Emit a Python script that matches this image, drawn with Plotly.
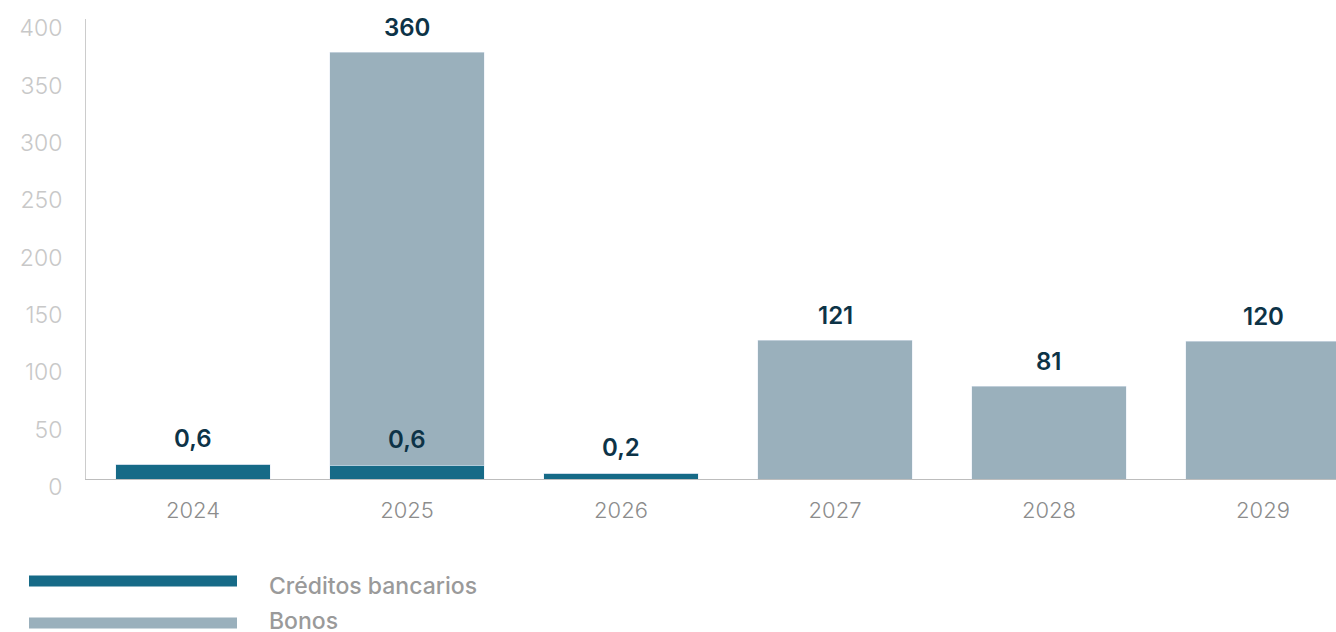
import plotly.graph_objects as go

years = ["2024", "2025", "2026", "2027", "2028", "2029"]
# bar heights as drawn in the source (credits bars have a visible minimum height)
creditos = [13, 12, 5, 0, 0, 0]
bonos = [0, 360, 0, 121, 81, 120]
creditos_labels = ["0,6", "0,6", "0,2", "", "", ""]
bonos_labels = ["", "360", "", "121", "81", "120"]

c_cred = "#166a87"
c_bono = "#9ab0bc"
c_label = "#0d3347"

fig = go.Figure()
fig.add_trace(go.Bar(x=years, y=creditos, marker_color=c_cred, name="Créditos bancarios"))
fig.add_trace(go.Bar(x=years, y=bonos, marker_color=c_bono, name="Bonos"))

# value labels above bars (x as category index)
for i, yr in enumerate(years):
    if creditos_labels[i]:
        fig.add_annotation(x=i, y=creditos[i], text=creditos_labels[i], showarrow=False,
                           yanchor="middle", yshift=26,
                           font=dict(family="Inter", size=24, color=c_label, weight=600))
    if bonos_labels[i]:
        fig.add_annotation(x=i, y=creditos[i] + bonos[i], text=bonos_labels[i], showarrow=False,
                           yanchor="middle", yshift=25,
                           font=dict(family="Inter", size=24, color=c_label, weight=600))

# custom legend with long swatches
legend_items = [("Créditos bancarios", c_cred, -0.2217, -0.2326), ("Bonos", c_bono, -0.313, -0.309)]
for name, col, ysw, ytx in legend_items:
    fig.add_shape(type="rect", xref="paper", yref="paper",
                  x0=-0.0456, x1=0.1208, y0=ysw - 0.012, y1=ysw + 0.012,
                  fillcolor=col, line_width=0)
    fig.add_annotation(xref="paper", yref="paper", x=0.1448, y=ytx, text=name,
                       showarrow=False, xanchor="left", yanchor="middle",
                       font=dict(family="Inter", size=23, color="#9a9a9a", weight=500))

fig.update_layout(
    barmode="stack",
    bargap=0.28,
    width=1336, height=632,
    margin=dict(l=86, r=0, t=19, b=153),
    plot_bgcolor="white", paper_bgcolor="white",
    showlegend=False,
    xaxis=dict(type="category", range=[-0.5, 5.341], automargin=False, showgrid=False,
               showline=True, linecolor="#bdbdbd", linewidth=1, ticks="",
               ticklabelstandoff=12,
               tickfont=dict(family="Inter", size=22, color="#8c8c8c", weight=300)),
    yaxis=dict(range=[0, 401], dtick=50, automargin=False, showgrid=False, zeroline=False,
               showline=True, linecolor="#cccccc", linewidth=1, ticks="",
               ticklabelstandoff=18, ticklabelshift=8,
               tickfont=dict(family="Inter", size=23, color="#c8c8c8", weight=300)),
)

# drop the default body margin so the figure fills the window exactly
fig.write_html("out.html", config={"displayModeBar": False},
               post_script="document.body.style.margin='0';document.body.style.overflow='hidden';")
